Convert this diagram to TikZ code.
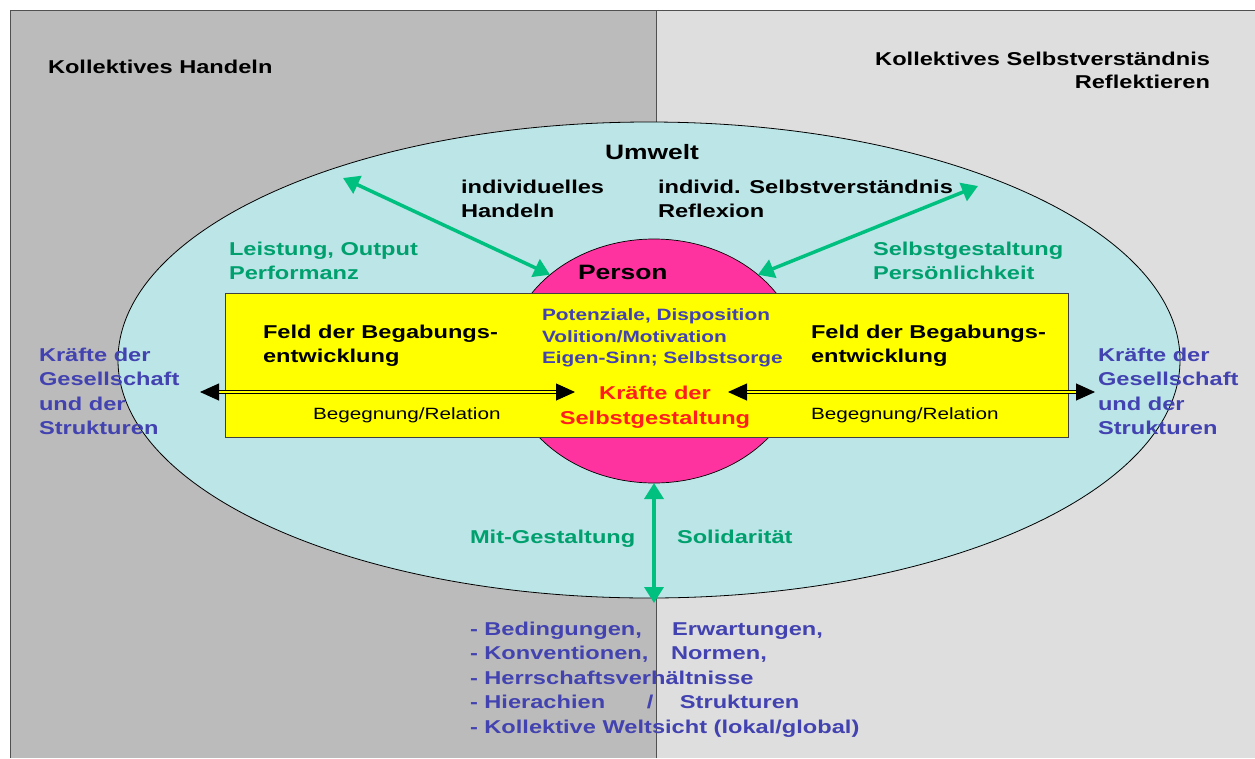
\documentclass[tikz,border=0pt]{standalone}
\usepackage{fontspec}
\setmainfont{Liberation Sans}[FakeStretch=1.27]
\usetikzlibrary{arrows.meta,shapes.geometric}
\definecolor{bgL}{RGB}{187,187,187}
\definecolor{bgR}{RGB}{222,222,222}
\definecolor{envC}{RGB}{187,229,230}
\definecolor{pinkC}{RGB}{255,51,160}
\definecolor{yelC}{RGB}{255,255,0}
\definecolor{blueT}{RGB}{66,66,176}
\definecolor{greenT}{RGB}{0,160,110}
\definecolor{greenA}{RGB}{0,192,128}
\definecolor{redT}{RGB}{255,30,30}
\definecolor{frameC}{RGB}{80,80,80}
\begin{document}
\begin{tikzpicture}[x=1pt,y=-1pt,
  txt/.style={inner sep=0pt, outer sep=0pt, text=black, font=\fontsize{18.6}{24.5}\selectfont\bfseries},
  bigtxt/.style={txt, font=\fontsize{20.8}{25}\selectfont\bfseries},
  gtxt/.style={txt, text=greenT},
  btxt/.style={txt, text=blueT},
  smalltxt/.style={txt, text=blueT, font=\fontsize{16.4}{21.2}\selectfont\bfseries},
  regtxt/.style={txt, font=\fontsize{16.3}{20}\selectfont},
  rtxt/.style={txt, text=redT, font=\fontsize{18.6}{25}\selectfont\bfseries},
  garrow/.style={draw=greenA, line width=3.5pt, {Triangle[length=16pt,width=19pt]}-{Triangle[length=16pt,width=19pt]}},
  darrow/.style={draw=black, line width=0.9pt, double=yelC, double distance=2pt, {Triangle[length=19pt,width=17pt]}-{Triangle[length=19pt,width=17pt]}},
  framel/.style={draw=frameC, line width=0.8pt}
]
\useasboundingbox (0,0) rectangle (1255,758);
\fill[white] (0,0) rectangle (1255,758);
\fill[bgL] (10,10) rectangle (656,758);
\fill[bgR] (656,10) rectangle (1255,758);
\draw[framel] (10,758) -- (10,10) -- (1255,10);
\draw[framel] (656,10) -- (656,758);

% Umwelt ellipse
\node[ellipse, draw=black, line width=0.8pt, fill=envC, minimum width=1062pt, minimum height=476pt, inner sep=0pt, outer sep=0pt] (env) at (649,360) {};
% Person
\node[ellipse, draw=black, line width=0.7pt, fill=pinkC, minimum width=294pt, minimum height=244pt, inner sep=0pt, outer sep=0pt] (person) at (654,361) {};
% Feld box
\node[rectangle, draw=black!75, line width=0.9pt, fill=yelC, minimum width=843pt, minimum height=144pt, inner sep=0pt, outer sep=0pt] (feld) at (646.5,365) {};

% Headings
\node[txt, anchor=north west] (kh) at (48,60) {Kollektives Handeln};
\node[txt, anchor=north east, align=right, font=\fontsize{18.6}{23.5}\selectfont\bfseries] (ksv) at (1210,52) {Kollektives Selbstverständnis\\Reflektieren};
\node[bigtxt, anchor=north] (uw) at (652,144) {Umwelt};
\node[txt, anchor=north west, align=left] (ih) at (461,180) {individuelles\\Handeln};
\node[txt, anchor=north west, align=left] (isv) at (658,180) {individ. Selbstverständnis\\Reflexion};
\node[gtxt, anchor=north west, align=left] (lo) at (229,242) {Leistung, Output\\Performanz};
\node[gtxt, anchor=north west, align=left] (sgp) at (873,242) {Selbstgestaltung\\Persönlichkeit};
\node[bigtxt, anchor=north west] (pn) at (578,265) {Person};

% Box contents
\node[txt, anchor=north west, align=left] (f1) at (263,325) {Feld der Begabungs-\\entwicklung};
\node[txt, anchor=north west, align=left] (f2) at (811,325) {Feld der Begabungs-\\entwicklung};
\node[smalltxt, anchor=north west, align=left] (pd) at (542,309) {Potenziale, Disposition\\Volition/Motivation\\Eigen-Sinn; Selbstsorge};
\node[rtxt, anchor=north, align=center] (kds) at (655,386) {Kräfte der\\Selbstgestaltung};
\node[regtxt, anchor=north west] (br1) at (313,408) {Begegnung/Relation};
\node[regtxt, anchor=north west] (br2) at (811,408) {Begegnung/Relation};

% Side texts
\node[btxt, anchor=north west, align=left] (kg1) at (39,348) {Kräfte der\\Gesellschaft\\und der\\Strukturen};
\node[btxt, anchor=north west, align=left] (kg2) at (1098,348) {Kräfte der\\Gesellschaft\\und der\\Strukturen};

% Bottom
\node[gtxt, anchor=north west] (mg) at (470,530) {Mit-Gestaltung};
\node[gtxt, anchor=north west] (sol) at (677,530) {Solidarität};
\node[btxt, anchor=north west, align=left] (list) at (470,622) {\makebox[202pt][l]{- Bedingungen,}Erwartungen,\\\makebox[201pt][l]{- Konventionen,}Normen,\\- Herrschaftsverhältnisse\\\makebox[177pt][l]{- Hierachien}\makebox[33pt][l]{/}Strukturen\\- Kollektive Weltsicht (lokal/global)};

% Connectors
\coordinate (tl) at (343,178);
\coordinate (tr) at (978,186);
\coordinate (bt) at (654,603);
\draw[garrow] (tl) -- (person.north west);
\draw[garrow] (person.north east) -- (tr);
\draw[garrow] (person.south) -- (bt);

\coordinate (la) at (200,392);
\coordinate (lb) at (575,392);
\coordinate (ra) at (728,392);
\coordinate (rb) at (1095,392);
\draw[darrow] (la) -- (lb);
\draw[darrow] (ra) -- (rb);
\end{tikzpicture}
\end{document}
